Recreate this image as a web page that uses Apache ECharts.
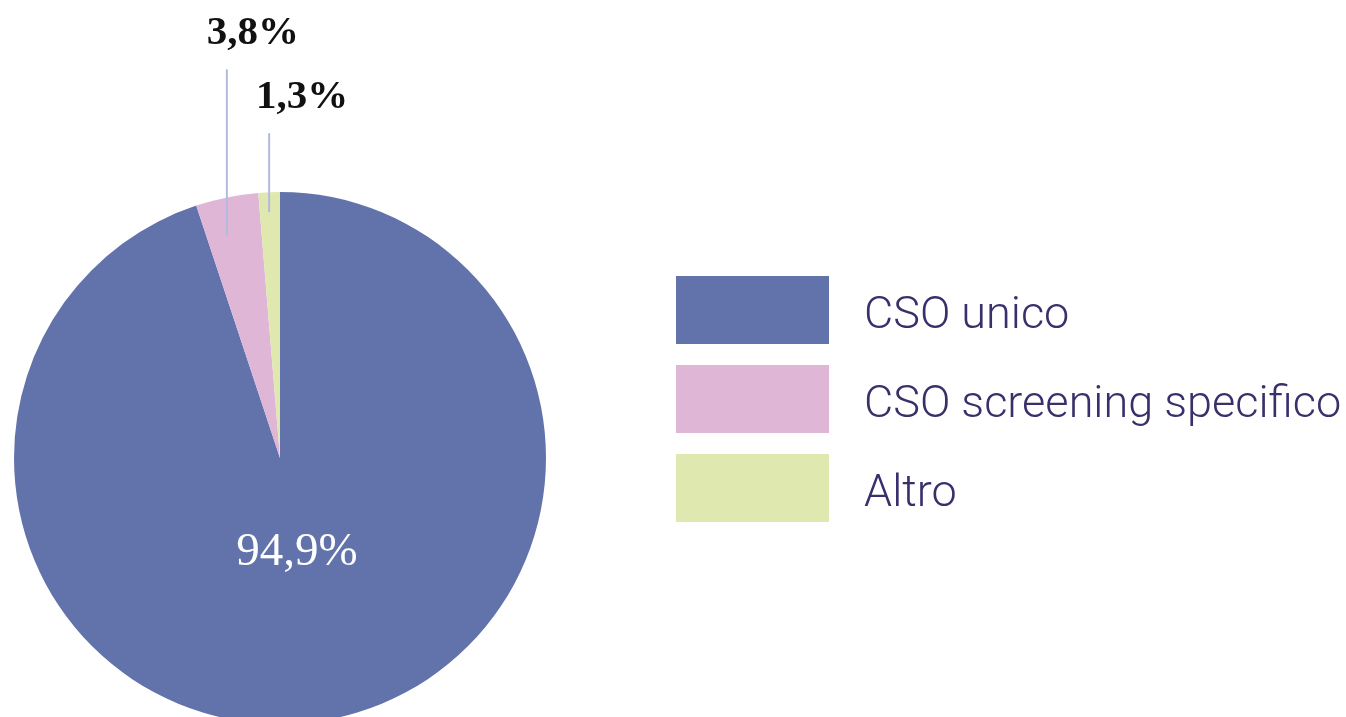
<!DOCTYPE html>
<html>
<head>
<meta charset="utf-8">
<script src="https://cdn.jsdelivr.net/npm/echarts@6/dist/echarts.min.js"></script>
<style>
  html, body { margin: 0; padding: 0; background: #fff; }
  #chart { width: 1346px; height: 717px; }
</style>
</head>
<body>
<div id="chart"></div>
<script>
// dati
var categories = ['CSO unico', 'CSO screening specifico', 'Altro'];
var values = [94.9, 3.8, 1.3];
var labels = ['94,9%', '3,8%', '1,3%'];
var colors = ['#6273ab', '#e0b6d7', '#dfe8ae'];

var chart = echarts.init(document.getElementById('chart'));

// posizione delle etichette esterne (spostamento rispetto al bordo della fetta)
var labelShift = [null, { dx: 26, dy: -164, lineIn: 38 }, { dx: 33, dy: -95, lineIn: 20 }];

var pieCenter = [280, 458];
var pieRadius = 266;

chart.setOption({
  backgroundColor: '#fff',
  animation: false,
  legend: {
    orient: 'vertical',
    left: 676,
    top: 276,
    padding: 0,
    itemWidth: 153,
    itemHeight: 68,
    itemGap: 21,
    icon: 'rect',
    formatter: '{t|{name}}',
    textStyle: {
      color: '#3b2f6b',
      padding: [0, 0, 0, 30],
      rich: {
        t: {
          fontFamily: 'Roboto',
          fontWeight: 300,
          fontSize: 45,
          color: '#3b2f6b',
          padding: [14, 0, 0, 0]
        }
      }
    },
    data: categories
  },
  series: [{
    // fette colorate
    type: 'pie',
    center: pieCenter,
    radius: pieRadius,
    startAngle: 90,
    silent: true,
    label: { show: false },
    labelLine: { show: false },
    data: categories.map(function (name, i) {
      return { name: name, value: values[i], itemStyle: { color: colors[i] } };
    })
  }, {
    // etichette sopra le fette (linee visibili anche dentro la torta)
    type: 'pie',
    z: 5,
    center: pieCenter,
    radius: pieRadius,
    startAngle: 90,
    silent: true,
    itemStyle: { color: 'rgba(0,0,0,0)' },
    label: {
      show: true,
      position: 'outside',
      overflow: 'none',
      formatter: function (p) { return labels[p.dataIndex]; },
      fontFamily: 'Liberation Serif',
      fontWeight: 'bold',
      fontSize: 41,
      color: '#111'
    },
    labelLine: {
      show: true,
      lineStyle: { color: '#b4b9df', width: 2 }
    },
    labelLayout: function (p) {
      var i = p.dataIndex;
      var pts = p.labelLinePoints;
      if (i === 0) {
        return { x: 297, y: 553, align: 'center', verticalAlign: 'middle' };
      }
      var s = labelShift[i];
      var ex = pts[0][0], ey = pts[0][1];
      var ly = ey + s.dy;
      return {
        x: ex + s.dx,
        y: ly,
        align: 'center',
        verticalAlign: 'middle',
        labelLinePoints: [[ex, ey + s.lineIn], [ex, ly + 36], [ex, ly + 36]]
      };
    },
    data: categories.map(function (name, i) {
      if (i === 0) {
        return {
          name: name, value: values[i],
          label: { color: '#fff', fontWeight: 'normal', fontSize: 47 },
          labelLine: { show: false }
        };
      }
      return { name: name, value: values[i] };
    })
  }]
});
</script>
</body>
</html>
